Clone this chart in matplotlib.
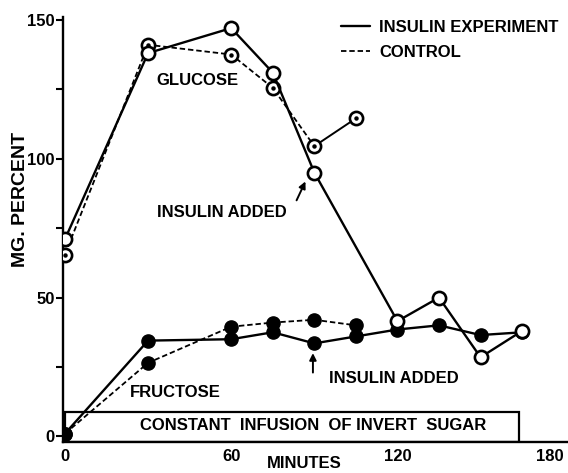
import matplotlib
matplotlib.use("Agg")
import matplotlib.pyplot as plt
from matplotlib.lines import Line2D
from matplotlib.patches import Rectangle

plt.rcParams["font.family"] = ["Liberation Sans", "DejaVu Sans"]
plt.rcParams["font.weight"] = "bold"
plt.rcParams["axes.labelweight"] = "bold"

# data (minutes, mg percent)
glucose_exp_t = [0, 30, 60, 75, 90, 120, 135, 150, 165]
glucose_exp = [71, 138, 147, 131, 95, 41.5, 50, 28.5, 38]

glucose_ctl_t = [0, 30, 60, 75, 90, 105]
glucose_ctl = [65.5, 141, 137.5, 125.5, 104.5, 114.5]

fructose_exp_t = [0, 30, 60, 75, 90, 105, 120, 135, 150, 165]
fructose_exp = [1, 34.5, 35, 37.5, 33.5, 36, 38.5, 40, 36.5, 37.5]

fructose_ctl_t = [0, 30, 60, 75, 90, 105]
fructose_ctl = [1, 26.5, 39.5, 41, 42, 40]

y_ticks = [0, 50, 100, 150]
y_minor = [25, 75, 125]
x_ticks = [0, 60, 120, 180]

infusion_end = 164
infusion_top = 8.8

XLIM = (-0.7, 181.2)
YLIM = (-2.0, 151)

fig = plt.figure(figsize=(5.68, 4.73), dpi=100)
ax = fig.add_axes([63 / 568, 1 - 442 / 473, 504 / 568, (442 - 17) / 473])
ax.set_xlim(*XLIM)
ax.set_ylim(*YLIM)

solid = dict(color="black", lw=1.7, solid_capstyle="round")
dashed = dict(color="black", lw=1.3, linestyle=(0, (3, 1.6)))
open_m = dict(marker="o", ms=9.5, mfc="white", mec="black", mew=1.9)
fill_m = dict(marker="o", ms=9.5, mfc="black", mec="black")

# fructose
ax.plot(fructose_ctl_t, fructose_ctl, **dashed, **fill_m, zorder=3)
ax.plot(fructose_exp_t, fructose_exp, **solid, **fill_m, zorder=3)

# glucose control: dashed, last segment solid
ax.plot(glucose_ctl_t[:-1], glucose_ctl[:-1], **dashed, zorder=4)
ax.plot(glucose_ctl_t[-2:], glucose_ctl[-2:], color="black", lw=1.4, zorder=4)
ax.plot(glucose_ctl_t, glucose_ctl, ls="none", **open_m, zorder=5)
ax.plot(glucose_ctl_t, glucose_ctl, ls="none", marker="o", ms=2.2,
        color="black", zorder=6)

# glucose insulin experiment
ax.plot(glucose_exp_t, glucose_exp, **solid, **open_m, zorder=5)

# infusion box
ax.add_patch(Rectangle((0, YLIM[0]), infusion_end, infusion_top - YLIM[0],
                       fill=False, lw=1.6, color="black", zorder=2))
ax.text(89.5, 4.0, "CONSTANT  INFUSION  OF INVERT  SUGAR", ha="center",
        va="center", fontsize=12)

# labels in the plot
ax.text(47.7, 128.2, "GLUCOSE", ha="center", va="center", fontsize=12)
ax.text(40, 16, "FRUCTOSE", ha="center", va="center", fontsize=12)
ax.text(56.7, 80.8, "INSULIN ADDED", ha="center", va="center", fontsize=12)
ax.text(118.8, 21, "INSULIN ADDED", ha="center", va="center", fontsize=12)
arrow = dict(arrowstyle="-|>", color="black", lw=1.4, mutation_scale=10,
             shrinkA=0, shrinkB=0)
ax.annotate("", xy=(86.8, 91.8), xytext=(83.6, 85), arrowprops=arrow)
ax.annotate("", xy=(89.5, 30), xytext=(89.5, 23), arrowprops=arrow)

# axes
for s in ["top", "right"]:
    ax.spines[s].set_visible(False)
ax.spines["left"].set_linewidth(1.7)
ax.spines["bottom"].set_linewidth(1.7)
ax.set_yticks(y_ticks)
ax.set_yticks(y_minor, minor=True)
ax.set_xticks(x_ticks)
ax.set_xticklabels([str(t) for t in x_ticks])
ax.get_xticklabels()[-1].set_horizontalalignment("right")
ax.tick_params(axis="y", which="both", direction="out", length=5, width=1.5,
               labelsize=12, pad=1)
ax.tick_params(axis="x", length=0, labelsize=12, pad=5)
for lab in ax.get_xticklabels() + ax.get_yticklabels():
    lab.set_fontweight("bold")

ax.set_ylabel("MG. PERCENT", fontsize=14, fontweight="bold")
ax.yaxis.set_label_coords(-0.068, 0.57)
ax.set_xlabel("MINUTES", fontsize=12, fontweight="bold")
ax.xaxis.set_label_coords(0.478, -0.033)

handles = [Line2D([], [], **solid), Line2D([], [], **dashed)]
fig.legend(handles, ["INSULIN EXPERIMENT", "CONTROL"], loc="upper left",
           bbox_to_anchor=(341 / 568, 1 - 20 / 473), frameon=False,
           fontsize=12, handlelength=1.75, handletextpad=0.55,
           labelspacing=0.6, borderpad=0, borderaxespad=0)

fig.savefig("out.png", dpi=100)
